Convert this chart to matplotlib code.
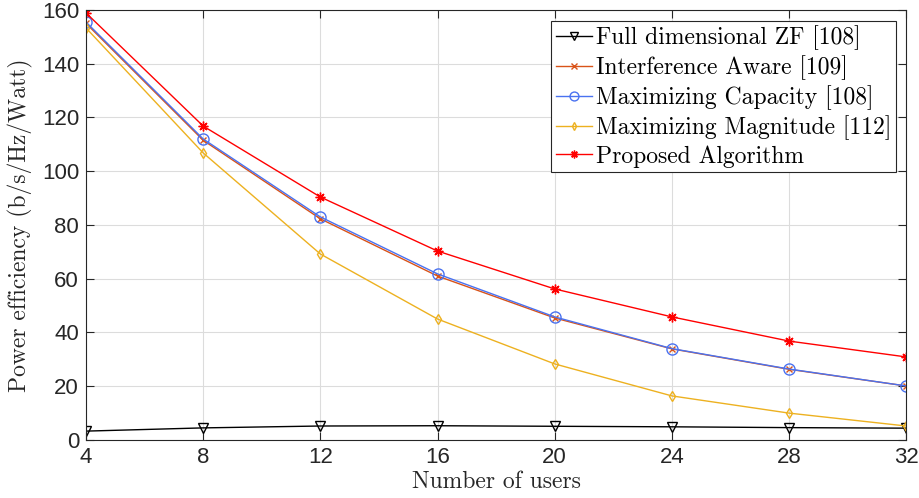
import matplotlib
matplotlib.use('Agg')
import matplotlib.pyplot as plt

# Data
users = [4, 8, 12, 16, 20, 24, 28, 32]
full_zf = [3.3, 4.5, 5.2, 5.3, 5.1, 4.9, 4.6, 4.4]
interference_aware = [155.0, 111.5, 82.3, 61.0, 45.4, 33.9, 26.3, 20.1]
max_capacity = [155.5, 112.0, 83.0, 61.8, 45.8, 34.0, 26.4, 20.1]
max_magnitude = [153.3, 106.8, 69.2, 45.0, 28.3, 16.4, 10.0, 5.2]
proposed = [158.9, 116.8, 90.4, 70.3, 56.2, 45.8, 36.8, 30.9]

labels = ['Full dimensional ZF [108]', 'Interference Aware [109]',
          'Maximizing Capacity [108]', 'Maximizing Magnitude [112]',
          'Proposed Algorithm']

serif = {'family': 'cmr10'}


def main():
    fig, ax = plt.subplots(figsize=(9.2, 4.98), dpi=100)
    fig.subplots_adjust(left=0.0935, right=0.985, bottom=0.1165, top=0.98)

    ax.plot(users, full_zf, color='black', lw=1, marker='v', ms=7,
            mfc='none', mew=1, label=labels[0])
    ax.plot(users, interference_aware, color='#D95319', lw=1, marker='x',
            ms=5, mew=1, label=labels[1])
    ax.plot(users, max_capacity, color='#4a72f0', lw=1, marker='o', ms=8,
            mfc='none', mew=1, label=labels[2])
    ax.plot(users, max_magnitude, color='#EDB120', lw=1, marker='d', ms=5,
            mfc='none', mew=1, label=labels[3])
    ax.plot(users, proposed, color='red', lw=1, marker=(8, 2, 0), ms=7,
            mew=1, label=labels[4])

    ax.set_xlim(4, 32)
    ax.set_ylim(0, 160)
    ax.set_xticks(users)
    ax.set_yticks(range(0, 161, 20))
    ax.tick_params(direction='in', labelsize=16, length=6, width=0.8,
                   top=True, right=True, colors='#262626', pad=5)
    for lab in ax.get_xticklabels() + ax.get_yticklabels():
        lab.set_family('Liberation Sans')
    ax.grid(True, color='#dcdcdc', lw=0.8)
    for sp in ax.spines.values():
        sp.set_color('#262626')
        sp.set_linewidth(0.8)

    ax.set_xlabel('Number of users', fontsize=17, labelpad=2, **serif,
                  color='#262626')
    ax.set_ylabel('Power efficiency (b/s/Hz/Watt)', fontsize=17, labelpad=6,
                  **serif, color='#262626')

    leg = ax.legend(loc='upper right', bbox_to_anchor=(0.988, 0.975),
                    prop={'family': 'cmr10', 'size': 17},
                    handlelength=1.5, handletextpad=0.2, borderpad=0.2,
                    labelspacing=0.22, borderaxespad=0, fancybox=False,
                    edgecolor='#262626', framealpha=1, markerscale=0.8)
    leg.get_frame().set_linewidth(0.8)

    plt.savefig('out.png', dpi=100)


if __name__ == '__main__':
    main()
